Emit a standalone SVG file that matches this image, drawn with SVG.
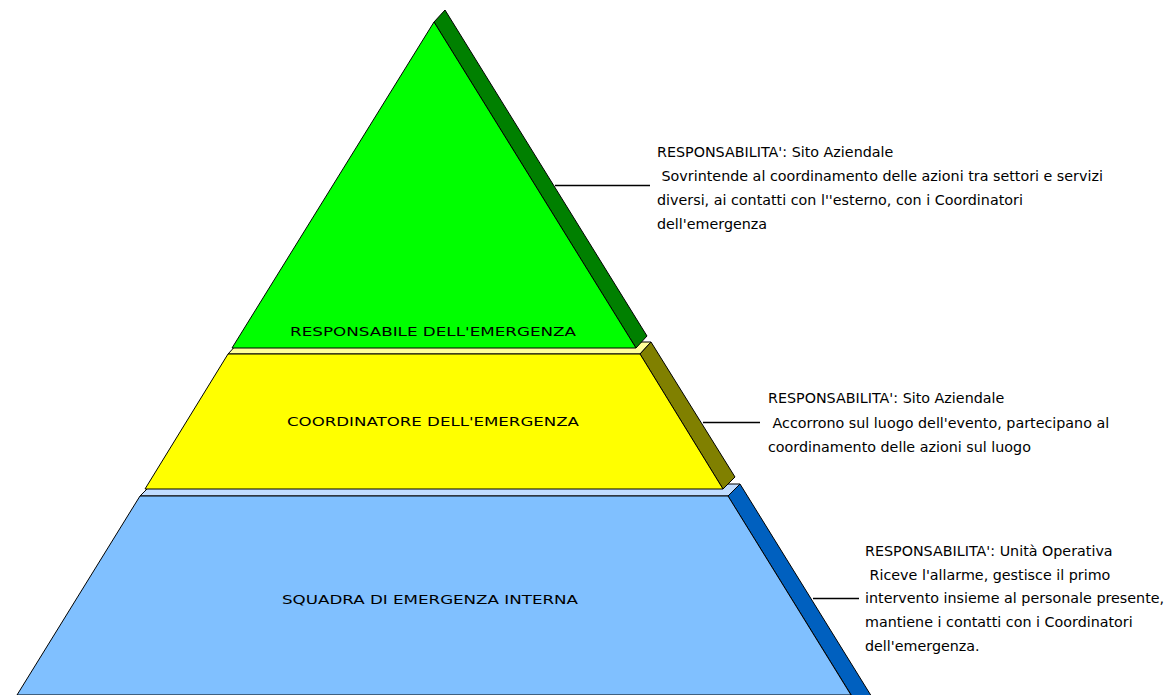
<svg xmlns="http://www.w3.org/2000/svg" width="1173" height="695" viewBox="0 0 1173 695">
<style>
.e{stroke:#000;stroke-width:1;stroke-linejoin:miter}
.lbl{font-family:"DejaVu Sans","Liberation Sans",sans-serif;font-size:13px;fill:#000;text-anchor:middle}
.d text{font-family:"DejaVu Sans","Liberation Sans",sans-serif;font-size:14.3px;fill:#000;white-space:pre}
.c{stroke:#000;stroke-width:1.3;fill:none}
</style>
<rect width="1173" height="695" fill="#fff"/>
<g id="tier3">
<polygon class="e" fill="#C0DCFF" points="140,496 728,496 740,484 152,484"/>
<polygon class="e" fill="#0060BF" points="728,496 740,484 875,702 863,714"/>
<polygon class="e" fill="#80C0FF" points="140,496 728,496 851,695 17,695"/>
<text class="lbl" x="430" y="604" textLength="296" lengthAdjust="spacingAndGlyphs">SQUADRA DI EMERGENZA INTERNA</text>
</g>
<g id="tier2">
<polygon class="e" fill="#FFFF99" points="228,354 640,354 651,342 239,342"/>
<polygon class="e" fill="#808000" points="640,354 651,342 735,477 723,489"/>
<polygon class="e" fill="#FFFF00" points="228,354 640,354 723,489 145,489"/>
<text class="lbl" x="433" y="426" textLength="292" lengthAdjust="spacingAndGlyphs">COORDINATORE DELL'EMERGENZA</text>
</g>
<g id="tier1">
<polygon class="e" fill="#008000" points="434,22 445,10 647,336 636,348"/>
<polygon class="e" fill="#00FF00" points="434,22 636,348 232,348"/>
<text class="lbl" x="433" y="336" textLength="286" lengthAdjust="spacingAndGlyphs">RESPONSABILE DELL'EMERGENZA</text>
</g>
<g id="connectors">
<line class="c" x1="555" y1="185.5" x2="650" y2="185.5"/>
<line class="c" x1="703" y1="422.5" x2="760" y2="422.5"/>
<line class="c" x1="813" y1="598.5" x2="859" y2="598.5"/>
</g>
<g id="desc1" class="d">
<text x="657" y="157">RESPONSABILITA': Sito Aziendale</text>
<text x="657" y="181"> Sovrintende al coordinamento delle azioni tra settori e servizi</text>
<text x="657" y="205">diversi, ai contatti con l''esterno, con i Coordinatori</text>
<text x="657" y="229">dell'emergenza</text>
</g>
<g id="desc2" class="d">
<text x="768" y="403">RESPONSABILITA': Sito Aziendale</text>
<text x="768" y="428"> Accorrono sul luogo dell'evento, partecipano al</text>
<text x="768" y="452">coordinamento delle azioni sul luogo</text>
</g>
<g id="desc3" class="d">
<text x="865" y="556">RESPONSABILITA': Unità Operativa</text>
<text x="865" y="580"> Riceve l'allarme, gestisce il primo</text>
<text x="865" y="603">intervento insieme al personale presente,</text>
<text x="865" y="627">mantiene i contatti con i Coordinatori</text>
<text x="865" y="651">dell'emergenza.</text>
</g>
</svg>
